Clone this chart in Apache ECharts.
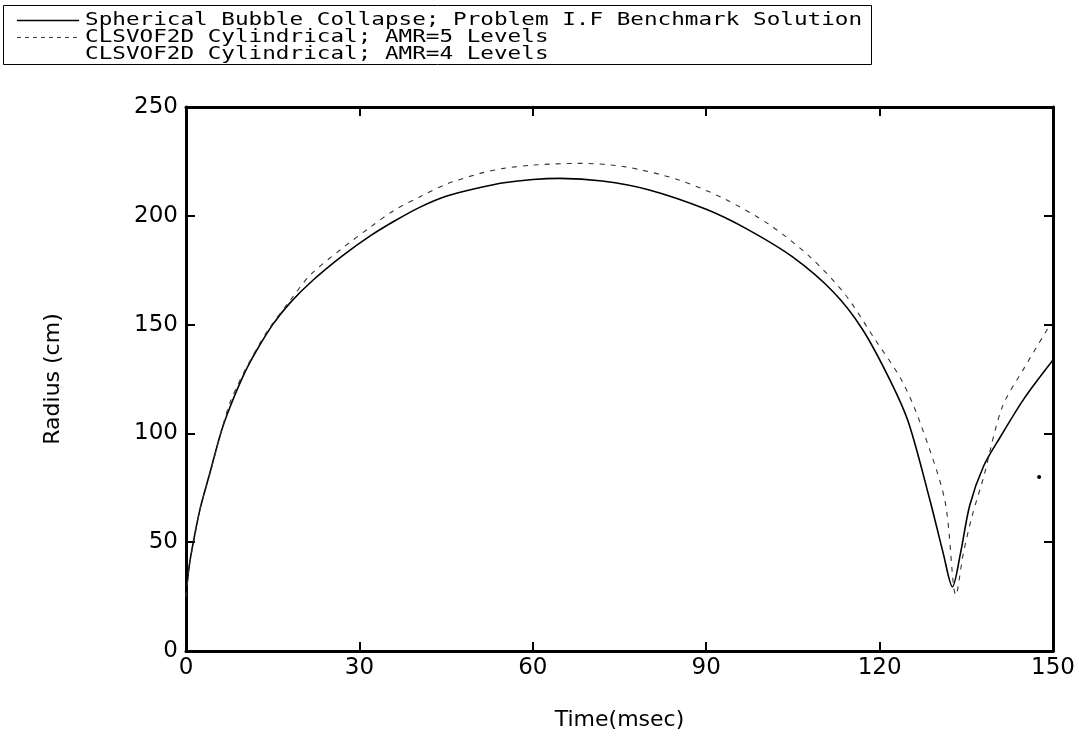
<!DOCTYPE html>
<html>
<head>
<meta charset="utf-8">
<script src="https://cdn.jsdelivr.net/npm/echarts@6/dist/echarts.min.js"></script>
<style>
  html, body { margin: 0; padding: 0; background: #fff; }
  #chart { width: 1079px; height: 736px; }
</style>
</head>
<body>
<div id="chart"></div>
<script>
// Series names shown in the legend
const seriesNames = [
  'Spherical Bubble Collapse; Problem I.F Benchmark Solution',
  'CLSVOF2D Cylindrical; AMR=5 Levels',
  'CLSVOF2D Cylindrical; AMR=4 Levels'
];

// Benchmark solution: time (msec) and radius (cm)
const timeBench = [0, 0.5, 1.26, 2.5, 4.15, 6, 7.6, 10, 12.2, 15, 18, 22, 27, 32, 36, 40.5, 45, 50.9, 55, 60, 64.7, 72, 80, 90, 97, 105, 112, 117, 121.8, 125, 128.7, 131, 132.6, 134, 135.6, 138, 140.8, 145, 150];
const radiusBench = [25, 38, 50, 66, 82, 100, 112, 127, 138, 150, 160, 170.5, 181.5, 191, 197.5, 204, 209, 213, 215.2, 216.7, 217.2, 216, 212, 203, 194, 181, 165, 148, 124.5, 105, 69.4, 45, 29.5, 45, 67, 85, 98, 116, 133.7];

// CLSVOF2D, 5 AMR levels
const timeAmr5 = [0, 0.5, 1.3, 2.5, 4.2, 6, 7.6, 10, 14, 18, 21.5, 27, 32, 36, 40.5, 45, 50.9, 55, 60, 68.2, 76, 85, 93, 101, 108, 114, 119, 123.8, 127, 131.3, 133.2, 134.5, 136, 138, 141.2, 145, 149.5];
const radiusAmr5 = [25, 38, 50, 66, 82, 100, 114, 128, 146.7, 161, 172.8, 185, 195, 202.5, 208.8, 214.5, 219.5, 221.8, 223.3, 224.1, 222.5, 216.7, 208, 195.8, 181, 164, 144, 124.5, 105, 69, 25.7, 45, 62, 80, 112, 130, 150];

// CLSVOF2D, 4 AMR levels
const timeAmr4 = [147.6];
const radiusAmr4 = [80];

// Axis ticks
const xTicks = [0, 30, 60, 90, 120, 150];
const yTicks = [0, 50, 100, 150, 200, 250];

const zip = (xs, ys) => xs.map((x, i) => [x, ys[i]]);

const axisFont = { fontFamily: 'DejaVu Sans', fontSize: 23, color: '#000' };
const boxLine = { show: true, onZero: false, lineStyle: { color: '#000', width: 3 } };
const tickIn = { show: true, inside: true, length: 9, lineStyle: { color: '#000', width: 2 } };

// Boxed key in the top-left corner: a line sample and a wide monospaced caption per row
const keyFont = '18.5px "DejaVu Sans Mono"';
const keyRows = [
  { name: seriesNames[0], top: 10.5, dash: null, show: true, color: '#000', width: 1.4 },
  { name: seriesNames[1], top: 27.5, dash: [4, 4], show: true, color: '#444', width: 1 },
  { name: seriesNames[2], top: 44.5, dash: null, show: false, color: '#000', width: 1 }
];
const keyElements = [
  {
    type: 'rect', shape: { x: 3.5, y: 5.5, width: 868, height: 59 },
    style: { fill: '#fff', stroke: '#000', lineWidth: 1 }, z: 10
  }
];
keyRows.forEach(row => {
  if (row.show) {
    keyElements.push({
      type: 'line', shape: { x1: 17, y1: row.top + 10, x2: 79, y2: row.top + 10 },
      style: { stroke: row.color, lineWidth: row.width, lineDash: row.dash }, z: 11
    });
  }
  keyElements.push({
    type: 'text', x: 85, y: row.top, scaleX: 1.224, originX: 0, originY: 0, z: 11,
    style: { text: row.name, font: keyFont, fill: '#000', verticalAlign: 'top', align: 'left' }
  });
});

const chart = echarts.init(document.getElementById('chart'), null, { renderer: 'canvas' });

chart.setOption({
  backgroundColor: '#fff',
  animation: false,
  graphic: keyElements,
  grid: { left: 186, right: 26, top: 107, bottom: 85, containLabel: false },
  xAxis: [
    {
      type: 'value', min: xTicks[0], max: xTicks[xTicks.length - 1], interval: 30,
      name: 'Time(msec)', nameLocation: 'middle', nameGap: 58,
      nameTextStyle: { fontFamily: 'DejaVu Sans', fontSize: 22, color: '#000' },
      axisLine: boxLine, axisTick: tickIn,
      axisLabel: Object.assign({ margin: 6 }, axisFont),
      splitLine: { show: false }
    },
    {
      type: 'value', position: 'top', min: xTicks[0], max: xTicks[xTicks.length - 1], interval: 30,
      axisLine: boxLine, axisTick: tickIn, axisLabel: { show: false }, splitLine: { show: false }
    }
  ],
  yAxis: [
    {
      type: 'value', min: yTicks[0], max: yTicks[yTicks.length - 1], interval: 50,
      name: 'Radius (cm)', nameLocation: 'middle', nameGap: 122, nameRotate: 90,
      nameTextStyle: { fontFamily: 'DejaVu Sans', fontSize: 22, color: '#000' },
      axisLine: boxLine, axisTick: tickIn,
      axisLabel: Object.assign({ margin: 8 }, axisFont),
      splitLine: { show: false }
    },
    {
      type: 'value', position: 'right', min: yTicks[0], max: yTicks[yTicks.length - 1], interval: 50,
      axisLine: boxLine, axisTick: tickIn, axisLabel: { show: false }, splitLine: { show: false }
    }
  ],
  series: [
    {
      name: seriesNames[0], type: 'line', data: zip(timeBench, radiusBench),
      smooth: 0.3, symbol: 'none', clip: true,
      lineStyle: { color: '#000', width: 1.6, type: 'solid' },
      itemStyle: { color: '#000' }
    },
    {
      name: seriesNames[1], type: 'line', data: zip(timeAmr5, radiusAmr5),
      smooth: 0.3, symbol: 'none', clip: true,
      lineStyle: { color: '#333', width: 1.1, type: [5, 6] },
      itemStyle: { color: '#333' }
    },
    {
      name: seriesNames[2], type: 'line', data: zip(timeAmr4, radiusAmr4),
      symbol: 'circle', symbolSize: 4, showSymbol: true,
      lineStyle: { color: '#000', width: 1 },
      itemStyle: { color: '#000' }
    }
  ]
});
</script>
</body>
</html>
